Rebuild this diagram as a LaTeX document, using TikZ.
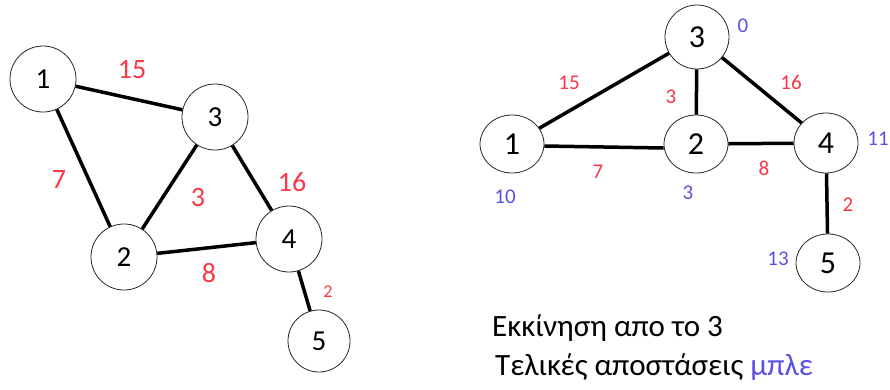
\documentclass[tikz,border=0pt]{standalone}
\usepackage{fontspec}
\setmainfont{Carlito}
\usetikzlibrary{shapes.geometric}
\definecolor{wred}{RGB}{250,55,70}
\definecolor{dblue}{RGB}{90,82,228}
\newcommand{\fs}[1]{\fontsize{#1}{#1}\selectfont}
\tikzset{
  vtx/.style={circle, draw=black!85, line width=0.8pt, inner sep=0pt, minimum size=66pt, font=\fs{29}},
  vtxb/.style={ellipse, draw=black!85, line width=0.8pt, inner sep=0pt, minimum width=64pt, minimum height=58pt, font=\fs{32}},
  edge/.style={line width=3.5pt, black},
  wt/.style={text=wred, inner sep=0pt, font=\fs{21}},
  bigwt/.style={wt, font=\fs{28}},
  dist/.style={text=dblue, inner sep=0pt, font=\fs{21}},
  caption/.style={anchor=base west, inner sep=0pt, font=\fs{31}}
}
\begin{document}
\begin{tikzpicture}[x=1pt, y=-1pt]
\useasboundingbox (0,0) rectangle (890,389);

% ---- undirected weighted graph ----
\node[vtx] (a1) at (43,79) {1};
\node[vtx] (a3) at (215,117) {3};
\node[vtx] (a2) at (124,257) {2};
\node[vtx] (a4) at (289,239) {4};
\node[vtx, minimum size=62pt] (a5) at (319,341) {5};

\draw[edge] (a1) -- (a3);
\draw[edge] (a1) -- (a2);
\draw[edge] (a3) -- (a2);
\draw[edge] (a3) -- (a4);
\draw[edge] (a2) -- (a4);
\draw[edge] (a4) -- (a5);

\node[bigwt] (w13) at (132,70) {15};
\node[bigwt] (w12) at (59,180) {7};
\node[bigwt] (w32) at (198,198) {3};
\node[bigwt] (w34) at (292,182) {16};
\node[bigwt] (w24) at (209,273) {8};
\node[wt, font=\fs{18}] (w45) at (328,292) {2};

% ---- shortest paths from vertex 3 ----
\node[vtxb, minimum height=64pt] (b3) at (697,37) {3};
\node[vtxb] (b1) at (512,144) {1};
\node[vtxb] (b2) at (696,144) {2};
\node[vtxb, minimum height=60pt] (b4) at (826,143) {4};
\node[vtxb] (b5) at (828,263) {5};

\draw[edge] (b3) -- (b1);
\draw[edge] (b3) -- (b2);
\draw[edge] (b3) -- (b4);
\draw[edge] ([yshift=-2pt]b1.east) -- ([yshift=-4pt]b2.west);
\draw[edge] (b2) -- (b4);
\draw[edge] (b4) -- (b5);

\node[wt] (v31) at (569,83) {15};
\node[wt] (v32) at (671,97) {3};
\node[wt] (v34) at (791,82) {16};
\node[wt] (v12) at (598,172) {7};
\node[wt] (v24) at (764,168) {8};
\node[wt] (v45) at (848,205) {2};

\node[dist] (d3) at (743,26) {0};
\node[dist] (d4) at (878,139) {11};
\node[dist] (d1) at (505,197) {10};
\node[dist] (d2) at (688,193) {3};
\node[dist] (d5) at (778,259) {13};

\node[caption] (start) at (492,336) {Εκκίνηση απο το 3};
\node[caption] (final) at (495,375) {Τελικές αποστάσεις \textcolor{dblue}{μπλε}};
\end{tikzpicture}
\end{document}
